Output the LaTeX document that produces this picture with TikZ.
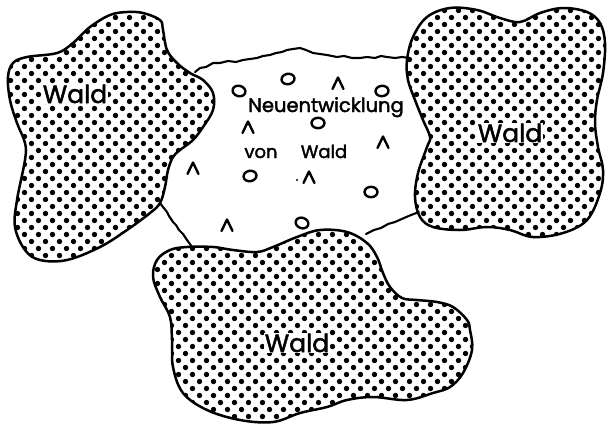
\documentclass[tikz,border=0pt]{standalone}
\usepackage{fontspec}
\setmainfont{Poppins}[FakeBold=2]
\tikzset{
  blob/.style={draw=black,line width=2.5pt},
  edgeline/.style={draw=black,line width=2.1pt,line join=round,line cap=round},
  sym/.style={draw=black,line width=2.4pt,line join=round,line cap=round},
  bigtxt/.style={font=\fontsize{25}{25}\selectfont,anchor=base,inner sep=1pt,fill=white},
  smalltxt/.style={font=\fontsize{18}{18}\selectfont,anchor=base,inner sep=0pt},
  neutxt/.style={font=\fontsize{19.5}{19.5}\selectfont,anchor=base,inner sep=0pt}
}
\newcommand{\waldfill}[4]{% i-from, i-to, j-from, j-to
  \foreach \j in {#3,...,#4}{%
    \pgfmathsetmacro{\off}{mod(\j,2)*7+3.5}%
    \fill foreach \i in {#1,...,#2} {(\i*14+\off,\j*7+3.5) circle (2.7)};%
  }}
\begin{document}
\begin{tikzpicture}[x=1pt,y=-1pt]
\useasboundingbox (0,0) rectangle (609,426);
% clearing edges (slightly ragged)
\draw[edgeline] (195,72) -- (200,68) -- (206,67) -- (213,63) -- (220,63) -- (228,61) -- (236,62) -- (243,60) -- (250,59) -- (257,58) -- (263,56) -- (270,55) -- (276,53) -- (282,52) -- (287,50) -- (293,49) -- (300,48) -- (306,50) -- (313,53) -- (320,54) -- (327,55) -- (337,57) -- (344,56) -- (352,58) -- (360,58) -- (367,57) -- (375,58) -- (381,56) -- (387,57) -- (395,58) -- (402,57) -- (409,58);
\draw[edgeline] (160,203) -- (163,207) -- (167,212) -- (169,216) -- (173,222) -- (176,225) -- (179,230) -- (183,234) -- (187,240) -- (190,244) -- (193,249);
\draw[edgeline] (419,212) -- (411,215) -- (404,218) -- (395,222) -- (388,224) -- (381,228) -- (374,230) -- (366,234);
% forest outlines
\path[save path=\pLeft] plot[smooth cycle,tension=0.6] coordinates {(160,20) (143,13) (127,12) (110,15) (90,27) (73,43) (57,53) (27,57) (13,63) (8,77) (10,100) (17,123) (25,143) (25,160) (17,200) (15,227) (25,250) (40,260) (67,260) (100,247) (127,230) (150,213) (160,203) (165,187) (168,170) (173,157) (180,150) (193,140) (203,127) (213,110) (213,93) (203,80) (190,73) (177,63) (167,50) (163,30)};
\path[save path=\pRight] plot[smooth cycle,tension=0.6] coordinates {(413,37) (427,17) (450,8) (477,10) (500,18) (520,22) (540,13) (563,8) (587,12) (600,23) (605,43) (603,73) (597,100) (595,123) (598,147) (603,170) (600,193) (587,220) (563,233) (533,237) (510,230) (487,227) (460,230) (433,227) (420,217) (415,197) (418,173) (427,147) (430,137) (423,120) (415,100) (408,80) (407,60)};
\path[save path=\pBottom] plot[smooth cycle,tension=0.6] coordinates {(187,247) (170,250) (157,260) (153,277) (160,297) (170,317) (172,340) (173,367) (183,393) (207,410) (240,420) (273,422) (300,413) (327,407) (347,400) (373,397) (407,400) (433,393) (450,387) (463,373) (472,350) (470,330) (467,320) (453,307) (437,302) (417,300) (402,298) (390,287) (383,273) (377,257) (367,243) (347,232) (320,230) (297,237) (273,247) (257,252) (233,250) (213,247)};
% dotted fills
\begin{scope}\clip[use path=\pLeft]; \waldfill{0}{15}{0}{38} \end{scope}
\begin{scope}\clip[use path=\pRight]; \waldfill{28}{43}{0}{34} \end{scope}
\begin{scope}\clip[use path=\pBottom]; \waldfill{10}{34}{32}{61} \end{scope}
\draw[blob,use path=\pLeft];
\draw[blob,use path=\pRight];
\draw[blob,use path=\pBottom];
% labels
\node[bigtxt] (wl) at (75,103) {Wald};
\node[bigtxt] (wr) at (510,142) {Wald};
\node[bigtxt] (wb) at (297,352) {Wald};
\node[neutxt] (neu) at (326,112) {Neuentwicklung};
\node[smalltxt] (von) at (261,158) {von};
\node[smalltxt] (wm) at (324,158) {Wald};
% young trees (circles)
\foreach \x/\y/\r in {288/79/10, 239/91/-15, 382/91/5, 318/123/0, 250/176/10, 371/192/0, 302/223/-20}
  \draw[sym,rotate around={\r:(\x,\y)}] (\x,\y) ellipse [x radius=6.5, y radius=5.2];
% young trees (carets)
\foreach \x/\y in {338/83, 248/127, 383/142, 193/168, 309/177, 227/225}
  \draw[sym] (\x-5.5,\y+6) -- (\x,\y-5.5) -- (\x+5.5,\y+6);
\fill (297,180) circle (1.1);
\end{tikzpicture}
\end{document}
